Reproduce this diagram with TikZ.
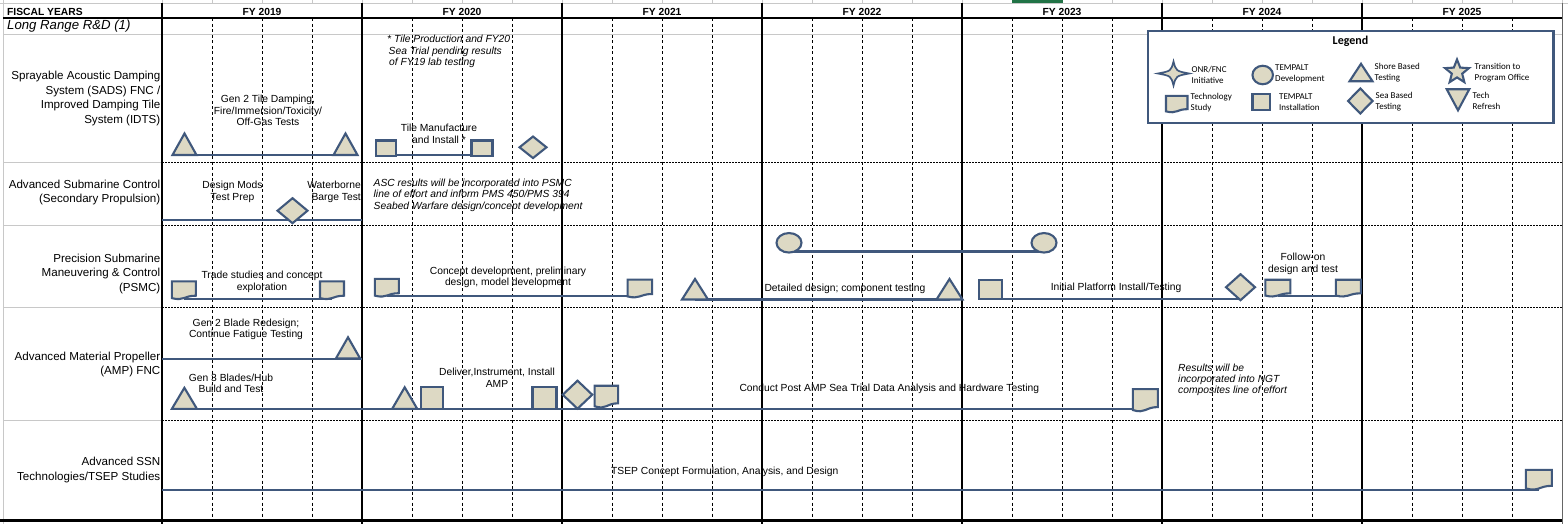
\documentclass[tikz,border=0pt]{standalone}
\usepackage{fontspec}
\setmainfont{Liberation Sans}
\newfontfamily\legfont{Carlito}
\usetikzlibrary{shapes.geometric,calc}
\definecolor{shpfill}{RGB}{221,217,196}
\definecolor{shpline}{RGB}{64,88,124}
\definecolor{gridgray}{RGB}{200,200,200}
\definecolor{xlgreen}{RGB}{33,115,70}
\pgfdeclarelayer{back}
\pgfsetlayers{back,main}
\tikzset{
  shpd/.style={draw=shpline, fill=shpfill, line width=2.1pt},
  shp/.style={shpd, inner sep=0pt, outer sep=0pt},
  sq/.style={shp, rectangle},
  dia/.style={shp, diamond},
  circ/.style={shp, ellipse},
  docbox/.style={rectangle, inner sep=0pt, outer sep=0pt},
  conn/.style={draw=shpline, line width=2.3pt},
  lbl/.style={font=\fontsize{11.6}{14.5}\selectfont, align=right, anchor=east, inner sep=0pt},
  txt/.style={font=\fontsize{10.3}{11.5}\selectfont, align=center, inner sep=0pt},
  note/.style={font=\fontsize{10.3}{11.2}\selectfont\itshape, align=left, anchor=west, inner sep=0pt},
  hdr/.style={font=\fontsize{10.3}{12}\selectfont\bfseries, inner sep=0pt},
  leg/.style={font=\legfont\fontsize{9}{11}\selectfont, align=left, anchor=west, inner sep=0pt},
  qline/.style={black, line width=0.7pt, dash pattern=on 3pt off 2.5pt},
  rline/.style={black, line width=0.9pt, dash pattern=on 1.5pt off 1.5pt},
  gline/.style={gridgray, line width=0.8pt},
  yline/.style={black, line width=2pt},
}
% triangle: name, x, base y, w, h
\newcommand\mktri[5]{%
  \node[docbox, minimum width=#4pt, minimum height=#5pt, anchor=south] (#1) at (#2,#3) {};
  \filldraw[shpd] (#1.south west) -- (#1.south east) -- (#1.north) -- cycle;}
% down triangle: name, x, top y, w, h
\newcommand\mkdtri[5]{%
  \node[docbox, minimum width=#4pt, minimum height=#5pt, anchor=north] (#1) at (#2,#3) {};
  \filldraw[shpd] (#1.north west) -- (#1.north east) -- (#1.south) -- cycle;}
% document (technology study): name, x, y, w, h
\newcommand\mkdoc[5]{%
  \node[docbox, minimum width=#4pt, minimum height=#5pt] (#1) at (#2,#3) {};
  \filldraw[shpd] (#1.north west) -- (#1.north east) -- ([yshift=0.2*#5pt]#1.south east)
    .. controls ([yshift=0.2*#5pt]#1.south) and ([yshift=-0.107*#5pt]#1.south) ..
    ([yshift=0.066*#5pt]#1.south west) -- cycle;}
\begin{document}
\begin{tikzpicture}[x=1pt,y=-1pt]
\useasboundingbox (0,0) rectangle (1568,524);
\begin{pgfonlayer}{back}
\fill[white] (0,0) rectangle (1568,524);
\foreach \x in {162,212,...,1562} \draw[gline] (\x,0) -- (\x,3.5);
\draw[gline] (0,3.5) -- (1568,3.5);
\draw[gline] (3,0) -- (3,524);
\fill[xlgreen] (1012,0) rectangle (1063,3.5);
\foreach \s in {162,362,...,1362} {
  \foreach \q in {50,100,150} \draw[qline] (\s+\q,18.5) -- (\s+\q,520);
}
\draw[gline] (3,34) -- (1562,34);
\foreach \y in {162,225,307,420} {
  \draw[gline] (3,\y) -- (162,\y);
  \draw[rline] (162,\y) -- (1562,\y);
}
\foreach \x in {162,362,...,1362} \draw[yline] (\x,3.5) -- (\x,524);
\draw[black!60, line width=1pt] (1562,3.5) -- (1562,524);
\draw[yline] (3,18.5) -- (1562,18.5);
\draw[black, line width=2.5pt] (0,520.5) -- (1562,520.5);
\end{pgfonlayer}

% ---------- header ----------
\node[hdr, anchor=west] (fiscal) at (7,11.7) {FISCAL YEARS};
\foreach \yr [count=\i from 0] in {2019,...,2025}
  \node[hdr] (fy\yr) at ({262+200*\i},11.8) {FY \yr};
\node[font=\fontsize{13.2}{15}\selectfont\itshape, anchor=west, inner sep=0pt] (lrrd) at (7,26.5) {Long Range R\&D (1)};

% ---------- row labels ----------
\node[lbl] (L1) at (160.5,98.5) {Sprayable Acoustic Damping\\System (SADS) FNC /\\Improved Damping Tile\\System (IDTS)};
\node[lbl] (L2) at (160.5,192.4) {Advanced Submarine Control\\(Secondary Propulsion)};
\node[lbl] (L3) at (160.5,273.8) {Precision Submarine\\Maneuvering \& Control\\(PSMC)};
\node[lbl] (L4) at (160.5,364.5) {Advanced Material Propeller\\(AMP) FNC};
\node[lbl] (L5) at (160.5,470) {Advanced SSN\\Technologies/TSEP Studies};

% ---------- row 1 ----------
\mktri{tA}{184.5}{155}{24}{21.5}
\mktri{tB}{345.5}{155}{24}{21.5}
\node[sq, minimum width=20pt, minimum height=15.5pt] (sA) at (386.4,148.3) {};
\node[sq, minimum width=21pt, minimum height=15.5pt] (sB) at (482,148.3) {};
\node[dia, minimum width=27pt, minimum height=21.5pt] (dA) at (533,147.3) {};
\node[txt] (n1) at (268,110.5) {Gen 2 Tile Damping,\\Fire/Immersion/Toxicity/\\Off-Gas Tests};
\node[txt] (n2) at (439,134) {Tile Manufacture\\and Install *};
\node[note] (n3) at (387,51.5) {* Tile Production and FY20\\\hspace*{1.5pt}Sea Trial pending results\\\hspace*{2pt}of FY19 lab testing};

% ---------- row 2 ----------
\coordinate (cL) at (162,220);
\coordinate (cR) at (362,220);
\node[dia, minimum width=30pt, minimum height=25pt] (dB) at (292.5,210.7) {};
\node[txt] (n4) at (232.5,192) {Design Mods\\Test Prep};
\node[txt, align=right, anchor=east] (n5) at (361,192) {Waterborne\\Barge Test};
\node[note] (n6) at (373.5,195.3) {ASC results will be incorporated into PSMC\\line of effort and inform PMS 450/PMS 394\\Seabed Warfare design/concept development};

% ---------- row 3 ----------
\node[circ, minimum width=25pt, minimum height=19.5pt] (cA) at (789,242.8) {};
\node[circ, minimum width=25pt, minimum height=19.5pt] (cB) at (1044,242.8) {};
\mkdoc{ts1}{183.8}{290.3}{24}{18}
\mkdoc{ts2}{332}{290.3}{24}{18}
\mkdoc{ts3}{386.8}{287.8}{24}{18}
\mkdoc{ts4}{639.8}{288.6}{24.5}{18}
\mktri{tC}{695}{299.5}{26}{20.5}
\mktri{tD}{949.5}{299.5}{26}{20.5}
\node[sq, minimum width=23pt, minimum height=19.5pt] (sC) at (990.5,289.5) {};
\node[dia, minimum width=29pt, minimum height=26pt] (dC) at (1240.5,287.2) {};
\mkdoc{ts5}{1277.8}{288.2}{25}{17}
\mkdoc{ts6}{1348.3}{288.2}{25}{17}
\node[txt] (n7) at (262,282) {Trade studies and concept\\exploration};
\node[txt] (n8) at (508,277.2) {Concept development, preliminary\\design, model development};
\node[txt] (n9) at (845,289.3) {Detailed design; component testing};
\node[txt] (n10) at (1116,288.3) {Initial Platform Install/Testing};
\node[txt] (n11) at (1303,263.8) {Follow-on\\design and test};

% ---------- row 4 ----------
\coordinate (aL) at (162,359.3);
\coordinate (aR) at (362,359.3);
\mktri{tE}{348}{358.3}{24}{21}
\mktri{tF}{184.4}{408.8}{25}{21}
\mktri{tG}{404.7}{408.8}{25}{21.5}
\node[sq, minimum width=22pt, minimum height=22pt] (sD) at (431.8,397.7) {};
\node[sq, minimum width=24pt, minimum height=22pt] (sE) at (544.5,397.7) {};
\node[dia, minimum width=29.5pt, minimum height=28pt] (dD) at (577.5,394.7) {};
\mkdoc{ts7}{606.3}{396.7}{23.5}{22}
\mkdoc{ts8}{1145.4}{400.3}{25}{22.5}
\node[txt] (n12) at (246,329.2) {Gen 2 Blade Redesign;\\Continue Fatigue Testing};
\node[txt] (n13) at (231,383.2) {Gen 3 Blades/Hub\\Build and Test};
\node[txt] (n14) at (497,378) {Deliver,Instrument, Install\\AMP};
\node[txt] (n15) at (889.3,389.3) {Conduct Post AMP Sea Trial Data Analysis and Hardware Testing};
\node[note] (n16) at (1178,380) {Results will be\\incorporated into NGT\\composites line of effort};

% ---------- row 5 ----------
\coordinate (cT) at (162,490);
\mkdoc{ts9}{1538.9}{479.8}{26}{20}
\node[txt] (n17) at (724.8,472) {TSEP Concept Formulation, Analysis, and Design};

% ---------- legend ----------
\node[draw=shpline, line width=2.2pt, fill=white, minimum width=405.5pt, minimum height=92pt, inner sep=0pt] (legbox) at (1350.75,77) {};
\node[font=\legfont\fontsize{12}{14}\selectfont\bfseries, inner sep=0pt] (legtitle) at (1350.5,41.5) {Legend};
\node[docbox, minimum width=31pt, minimum height=24pt] (onr) at (1173.5,73.5) {};
\filldraw[shpd, line width=1.7pt]
  (onr.north) .. controls ([shift={(2.5pt,2.5pt)}]onr.center) .. (onr.east)
  .. controls ([shift={(2.5pt,-2.5pt)}]onr.center) .. (onr.south)
  .. controls ([shift={(-2.5pt,-2.5pt)}]onr.center) .. (onr.west)
  .. controls ([shift={(-2.5pt,2.5pt)}]onr.center) .. (onr.north) -- cycle;
\node[circ, minimum width=20.5pt, minimum height=18.5pt] (lcirc) at (1262.7,75) {};
\mktri{ltri}{1361}{81.3}{23}{17.5}
\node[shp, star, star points=5, star point ratio=2.3, minimum size=25pt] (lstar) at (1457,72) {};
\mkdoc{ldoc}{1176.7}{104.2}{21.5}{16.5}
\node[sq, minimum width=17.5pt, minimum height=16.5pt] (lsq) at (1261.2,102.2) {};
\node[dia, minimum width=24.5pt, minimum height=25pt] (ldia) at (1360.3,101) {};
\mkdtri{ldtri}{1458}{89.3}{22.5}{21}
\node[leg] (lt1) at (1191.5,74.6) {ONR/FNC\\Initiative};
\node[leg] (lt2) at (1275,74.2) {TEMPALT\\Development};
\node[leg] (lt3) at (1374.5,72.7) {Shore Based\\Testing};
\node[leg] (lt4) at (1474.5,72.8) {Transition to\\Program Office};
\node[leg] (lt5) at (1190.5,103) {Technology\\Study};
\node[leg] (lt6) at (1279,102.2) {TEMPALT\\Installation};
\node[leg] (lt7) at (1375.5,101.2) {Sea Based\\Testing};
\node[leg] (lt8) at (1472.5,101.2) {Tech\\Refresh};

% ---------- connectors (behind shapes) ----------
\begin{pgfonlayer}{back}
\draw[conn] (tA.south) -- (tB.south);
\draw[conn] ([yshift=1pt]sA.south) -- ([yshift=1pt]sB.south);
\draw[conn] (cL) -- (cR);
\draw[conn] ([yshift=1pt]cA.south) -- ([yshift=1pt]cB.south);
\draw[conn] (ts1.south) -- (ts2.south);
\draw[conn] ([yshift=0.8pt]ts3.south) -- ([yshift=0.8pt]ts3.south -| ts4.center);
\draw[conn] (tC.south) -- (tD.south);
\draw[conn] (sC.south) -- (sC.south -| dC.center);
\draw[conn] ([yshift=0.7pt]ts5.south) -- ([yshift=0.7pt]ts6.south);
\draw[conn] (aL) -- (aR);
\draw[conn] (tF.south) -- (tF.south -| ts8.center);
\draw[conn] (cT) -- (cT -| ts9.center);
\end{pgfonlayer}
\end{tikzpicture}
\end{document}
